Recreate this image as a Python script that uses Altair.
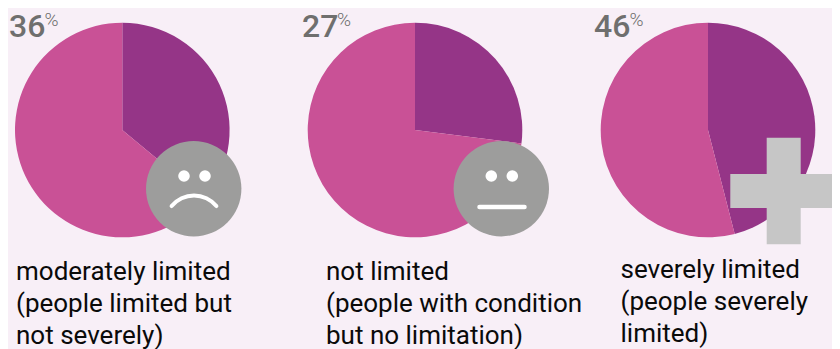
import altair as alt
import pandas as pd

panels = ["moderate", "none", "severe"]
shares = [36, 27, 46]
percent_labels = ["36", "27", "46"]
captions = [
    "moderately limited\n(people limited but\nnot severely)",
    "not limited\n(people with condition\nbut no limitation)",
    "severely limited\n(people severely\nlimited)",
]
part_names = ["limited", "rest"]

PURPLE, PINK, BG = "#953587", "#c95196", "#f8eff7"
FACE, PLUS, PCT = "#9d9d9c", "#c6c6c6", "#6f6f6e"
FONT = "Roboto"
OX, OY = 8, 8  # page margin


def px(v):
    return alt.value(v - OX)


def py(v):
    return alt.value(v - OY)


def pie(i, cx):
    df = pd.DataFrame({"part": part_names, "share": [shares[i], 100 - shares[i]]})
    return alt.Chart(df).mark_arc(radius=107.3, stroke=None).encode(
        theta=alt.Theta("share:Q", stack=True, scale=alt.Scale(domain=[0, 100])),
        order=alt.Order("part:N"),
        color=alt.Color("part:N", legend=None,
                        scale=alt.Scale(domain=part_names, range=[PURPLE, PINK])),
        x=px(cx), y=py(130),
    )


def text_at(s, x, y, size, color, weight=400, **kw):
    df = pd.DataFrame({"t": [s]})
    return alt.Chart(df).mark_text(align="left", baseline="alphabetic", font=FONT,
                                   fontSize=size, color=color, fontWeight=weight, **kw).encode(
        text="t:N", x=px(x), y=py(y))


def one():
    return alt.Chart(pd.DataFrame({"a": [0]}))


def dot(x, y, r, color):
    # a circle symbol's size is the area of its bounding square
    return one().mark_circle(size=4 * r * r, color=color, opacity=1).encode(x=px(x), y=py(y))


def box(x1, x2, y1, y2, color):
    return one().mark_rect(color=color).encode(x=px(x1), x2=px(x2), y=py(y1), y2=py(y2))


layers = []
centers = [122.3, 415, 708]
for i, c in enumerate(centers):
    layers.append(pie(i, c))

# percent figures
for i, (x, px2) in enumerate([(9, 44.5), (302, 337), (594, 629.5)]):
    layers.append(text_at(percent_labels[i], x, 36.7, 32, PCT, weight=500))
    layers.append(text_at("%", px2, 26, 19, PCT, weight=300))

# faces
layers += [dot(193.7, 188.7, 47.7, FACE), dot(184, 176, 5.8, "white"), dot(205, 176, 5.8, "white")]
layers.append(one().mark_arc(radius=27, radius2=31, theta=2 * 3.14159 - 0.95, theta2=2 * 3.14159 + 0.95,
                             color="white", cornerRadius=2).encode(x=px(194), y=py(224.5)))
layers += [dot(501.3, 188.7, 47.7, FACE), dot(491.3, 176, 5.8, "white"), dot(512.3, 176, 5.8, "white")]
layers.append(one().mark_rule(color="white", strokeWidth=4.5, strokeCap="round").encode(
    x=px(479.5), x2=px(524.5), y=py(207)))

# plus
layers += [box(766.7, 800.7, 137.7, 244.3, PLUS), box(730.3, 837, 174, 208, PLUS)]

# captions
for i, (x, y) in enumerate([(16, 280), (326, 280), (620.5, 278)]):
    layers.append(text_at(captions[i], x, y, 26, "#0a0a0a", lineBreak="\n", lineHeight=32))

chart = alt.layer(*layers).resolve_scale(theta="independent").properties(
    width=824, height=341, background=BG, padding=0,
    autosize=alt.AutoSizeParams(type="none"),
).configure_view(stroke=None)

chart.save("out.html", embed_options={"renderer": "svg", "actions": False})
